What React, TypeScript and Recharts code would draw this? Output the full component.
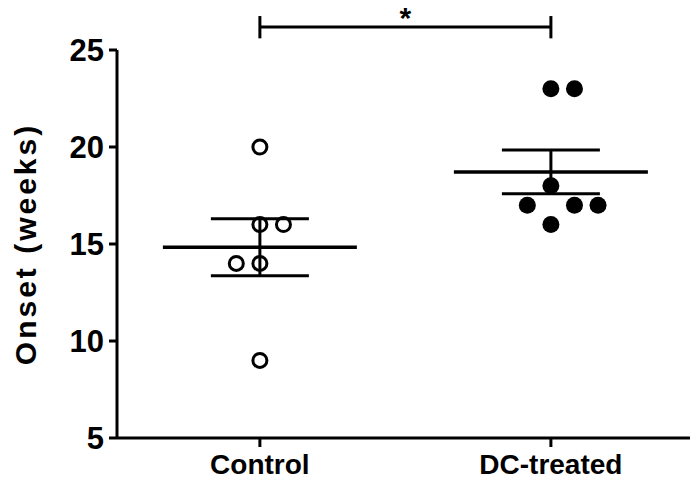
import { ScatterChart, Scatter, XAxis, YAxis, ErrorBar, ReferenceLine } from 'recharts';

const groups = ['Control', 'DC-treated'];
const controlOnset = [20, 16, 16, 14, 14, 9];
const controlJitter = [0, 0, 1, -1, 0, 0];
const dcOnset = [23, 23, 18, 17, 17, 17, 16];
const dcJitter = [0, 1, 0, -1, 1, 2, 0];
const yTicks = [5, 10, 15, 20, 25];
const significance = '*';

const JITTER_STEP = 0.081;
const FONT = '"Liberation Sans", Arial, sans-serif';

const summarize = (vals: number[]) => {
  const n = vals.length;
  const mean = vals.reduce((a, b) => a + b, 0) / n;
  const sd = Math.sqrt(vals.reduce((a, b) => a + (b - mean) ** 2, 0) / (n - 1));
  return { mean, sem: sd / Math.sqrt(n) };
};

const toPoints = (vals: number[], jitter: number[], group: number) =>
  vals.map((y, i) => ({ x: group + jitter[i] * JITTER_STEP, y }));

const controlPoints = toPoints(controlOnset, controlJitter, 1);
const dcPoints = toPoints(dcOnset, dcJitter, 2);

const cs = summarize(controlOnset);
const ds = summarize(dcOnset);
const summaryData = [
  { x: 1, y: cs.mean, sem: cs.sem },
  { x: 2, y: ds.mean, sem: ds.sem },
];

const OpenDot = (props: any) => (
  <circle cx={props.cx} cy={props.cy} r={7} fill="none" stroke="#000" strokeWidth={3} />
);
const FilledDot = (props: any) => <circle cx={props.cx} cy={props.cy} r={8.5} fill="#000" />;
const MeanLine = (props: any) => (
  <line x1={props.cx - 97} x2={props.cx + 97} y1={props.cy} y2={props.cy} stroke="#000" strokeWidth={3.5} />
);

const bracketY = 26.19;

export default function App() {
  return (
    <div style={{ position: 'absolute', left: 0, top: 0, background: '#fff' }}>
      <ScatterChart width={698} height={490} margin={{ top: 50, right: 8, bottom: 0, left: 0 }}>
        <XAxis
          type="number"
          dataKey="x"
          domain={[0.509, 2.478]}
          ticks={[1, 2]}
          tickFormatter={(v: number) => groups[v - 1]}
          axisLine={{ stroke: '#000', strokeWidth: 3 }}
          tickLine={{ stroke: '#000', strokeWidth: 3 }}
          tickSize={9}
          height={52}
          tick={{ fill: '#000', fontSize: 28, fontWeight: 'bold', fontFamily: FONT, dy: 5 }}
          allowDataOverflow
        />
        <YAxis
          type="number"
          dataKey="y"
          domain={[5, 25]}
          ticks={yTicks}
          width={117}
          axisLine={{ stroke: '#000', strokeWidth: 3 }}
          tickLine={{ stroke: '#000', strokeWidth: 3 }}
          tickSize={8}
          tick={{ fill: '#000', fontSize: 31, fontWeight: 'bold', fontFamily: FONT, dx: -3 }}
          allowDataOverflow
          label={{
            value: 'Onset (weeks)',
            angle: -90,
            position: 'insideLeft',
            offset: 25,
            style: { textAnchor: 'middle', fill: '#000', fontSize: 30, fontWeight: 'bold', fontFamily: FONT, letterSpacing: 3 },
          }}
        />
        <Scatter data={controlPoints} shape={OpenDot} isAnimationActive={false} />
        <Scatter data={dcPoints} shape={FilledDot} isAnimationActive={false} />
        <Scatter data={summaryData} shape={MeanLine} isAnimationActive={false}>
          <ErrorBar dataKey="sem" direction="y" width={49} stroke="#000" strokeWidth={3} isAnimationActive={false} />
        </Scatter>
        <ReferenceLine
          segment={[{ x: 1, y: bracketY }, { x: 2, y: bracketY }]}
          stroke="#000"
          strokeWidth={3}
          ifOverflow="visible"
          label={{ value: significance, position: 'top', offset: -1, fill: '#000', fontSize: 30, fontWeight: 'bold', fontFamily: FONT }}
        />
        <ReferenceLine segment={[{ x: 1, y: 25.6 }, { x: 1, y: 26.75 }]} stroke="#000" strokeWidth={3} ifOverflow="visible" />
        <ReferenceLine segment={[{ x: 2, y: 25.6 }, { x: 2, y: 26.75 }]} stroke="#000" strokeWidth={3} ifOverflow="visible" />
      </ScatterChart>
    </div>
  );
}
